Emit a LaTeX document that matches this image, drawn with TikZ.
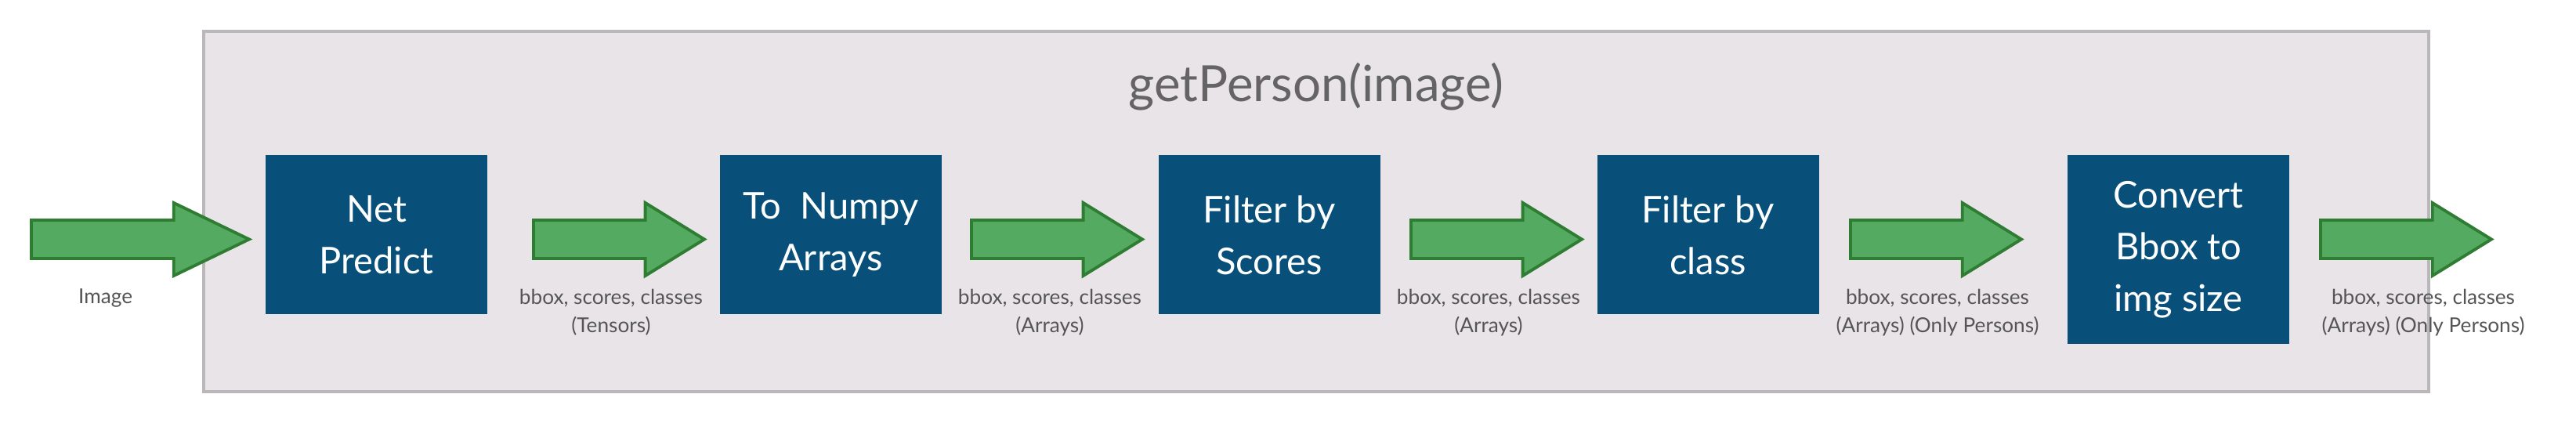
\documentclass[tikz,border=0pt]{standalone}
\usepackage{fontspec}
\setmainfont{Lato}
\usetikzlibrary{shapes.arrows}

\definecolor{boxblue}{HTML}{08507A}
\definecolor{arrowfill}{HTML}{55AA62}
\definecolor{arrowline}{HTML}{2F7D32}
\definecolor{framefill}{HTML}{E8E4E8}
\definecolor{frameline}{HTML}{B9B7B9}
\definecolor{titlegray}{HTML}{646464}
\definecolor{lblgray}{HTML}{555555}

\begin{document}
\begin{tikzpicture}[every node/.style={inner sep=0pt, outer sep=0pt},
    stage/.style={fill=boxblue, text=white, minimum width=2.83cm, minimum height=2.03cm, align=center, font=\fontsize{13.4}{18.8}\selectfont},
    flow/.style={single arrow, draw=arrowline, fill=arrowfill, line width=1.1pt, anchor=tail, inner ysep=0.226cm, inner xsep=0pt, minimum width=0.89cm, single arrow head extend=0.22cm, minimum height=2.18cm, single arrow tip angle=63.4},
    lbl/.style={anchor=north, align=center, text=lblgray, font=\fontsize{7.45}{10.2}\selectfont}]

        \useasboundingbox (0,0) rectangle (32.88,5.40);

        \node[draw=frameline, fill=framefill, line width=1.15pt, minimum width=28.40cm, minimum height=4.60cm] (frame) at (16.80,2.70) {};
        \node[anchor=base, text=titlegray, font=\fontsize{18.1}{20}\selectfont] (title) at (16.80,4.10) {getPerson(image)};

        \node[stage] (s1) at (4.805,2.40) {Net\\Predict};
        \node[stage] (s2) at (10.605,2.40) {To\ \ Numpy\\Arrays};
        \node[stage] (s3) at (16.20,2.40) {Filter by\\Scores};
        \node[stage] (s4) at (21.80,2.40) {Filter by\\class};
        \node[stage, minimum height=2.41cm] (s5) at (27.805,2.215) {Convert\\Bbox to\\img size};

        \node[flow, minimum height=2.78cm, single arrow tip angle=51.6] (a0) at (0.40,2.345) {};
        \node[flow] (a1) at (6.81,2.345) {};
        \node[flow] (a2) at (12.40,2.345) {};
        \node[flow] (a3) at (18.01,2.345) {};
        \node[flow] (a4) at (23.62,2.345) {};
        \node[flow] (a5) at (29.62,2.345) {};

        \node[lbl] (l0) at (1.347,1.71) {Image};
        \node[lbl] (l1) at (7.80,1.71) {bbox, scores, classes\\(Tensors)};
        \node[lbl] (l2) at (13.40,1.71) {bbox, scores, classes\\(Arrays)};
        \node[lbl] (l3) at (19.00,1.71) {bbox, scores, classes\\(Arrays)};
        \node[lbl] (l4) at (24.73,1.71) {bbox, scores, classes\\(Arrays) (Only Persons)};
        \node[lbl] (l5) at (30.93,1.71) {bbox, scores, classes\\(Arrays) (Only Persons)};

\end{tikzpicture}
\end{document}
